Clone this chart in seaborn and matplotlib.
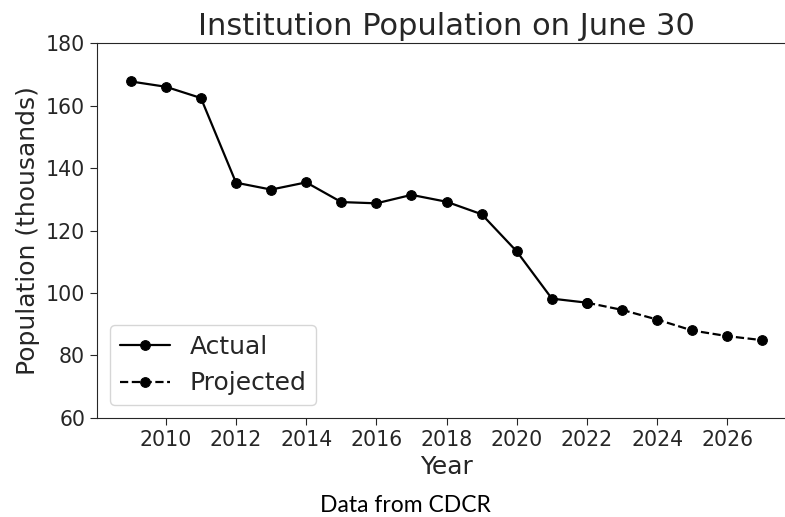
import matplotlib
matplotlib.use("Agg")
import matplotlib.pyplot as plt
import seaborn as sns
import pandas as pd

actual_years = [2009, 2010, 2011, 2012, 2013, 2014, 2015, 2016, 2017, 2018, 2019, 2020, 2021, 2022]
actual_pop = [167.7, 166.0, 162.4, 135.3, 133.1, 135.4, 129.1, 128.7, 131.4, 129.2, 125.2, 113.3, 98.2, 96.9]
projected_years = [2022, 2023, 2024, 2025, 2026, 2027]
projected_pop = [96.9, 94.6, 91.5, 88.0, 86.2, 84.9]

sns.set_style("ticks")
plt.rcParams["font.family"] = ["DejaVu Sans"]

fig = plt.figure(figsize=(7.85, 5.17), dpi=100)
ax = fig.add_axes([0.1236, 0.1915, 0.8906, 0.7253])

df_actual = pd.DataFrame({"Year": actual_years, "Population": actual_pop})
df_proj = pd.DataFrame({"Year": projected_years, "Population": projected_pop})

sns.lineplot(data=df_actual, x="Year", y="Population", ax=ax, color="black",
             marker="o", markersize=7, linewidth=1.6, markeredgecolor="black",
             label="Actual")
sns.lineplot(data=df_proj, x="Year", y="Population", ax=ax, color="black",
             marker="o", markersize=7, linewidth=1.6, linestyle="--",
             markeredgecolor="black", label="Projected")

ax.set_xlim(2008.04, 2027.96)
ax.set_ylim(60, 180)
ax.set_yticks([60, 80, 100, 120, 140, 160, 180])
ax.set_xticks(list(range(2010, 2027, 2)))
ax.tick_params(labelsize=14.8, length=5)
ax.set_xlabel("Year", fontsize=18)
ax.set_ylabel("Population (thousands)", fontsize=18)
ax.set_title("Institution Population on June 30", fontsize=22)
ax.legend(loc="lower left", fontsize=18, frameon=True)

fig.text(0.516, 0.01, "Data from CDCR", fontsize=16.5, family=["Lato", "DejaVu Sans"],
         ha="center", va="baseline", color="black")

fig.savefig("out.png", dpi=100)
